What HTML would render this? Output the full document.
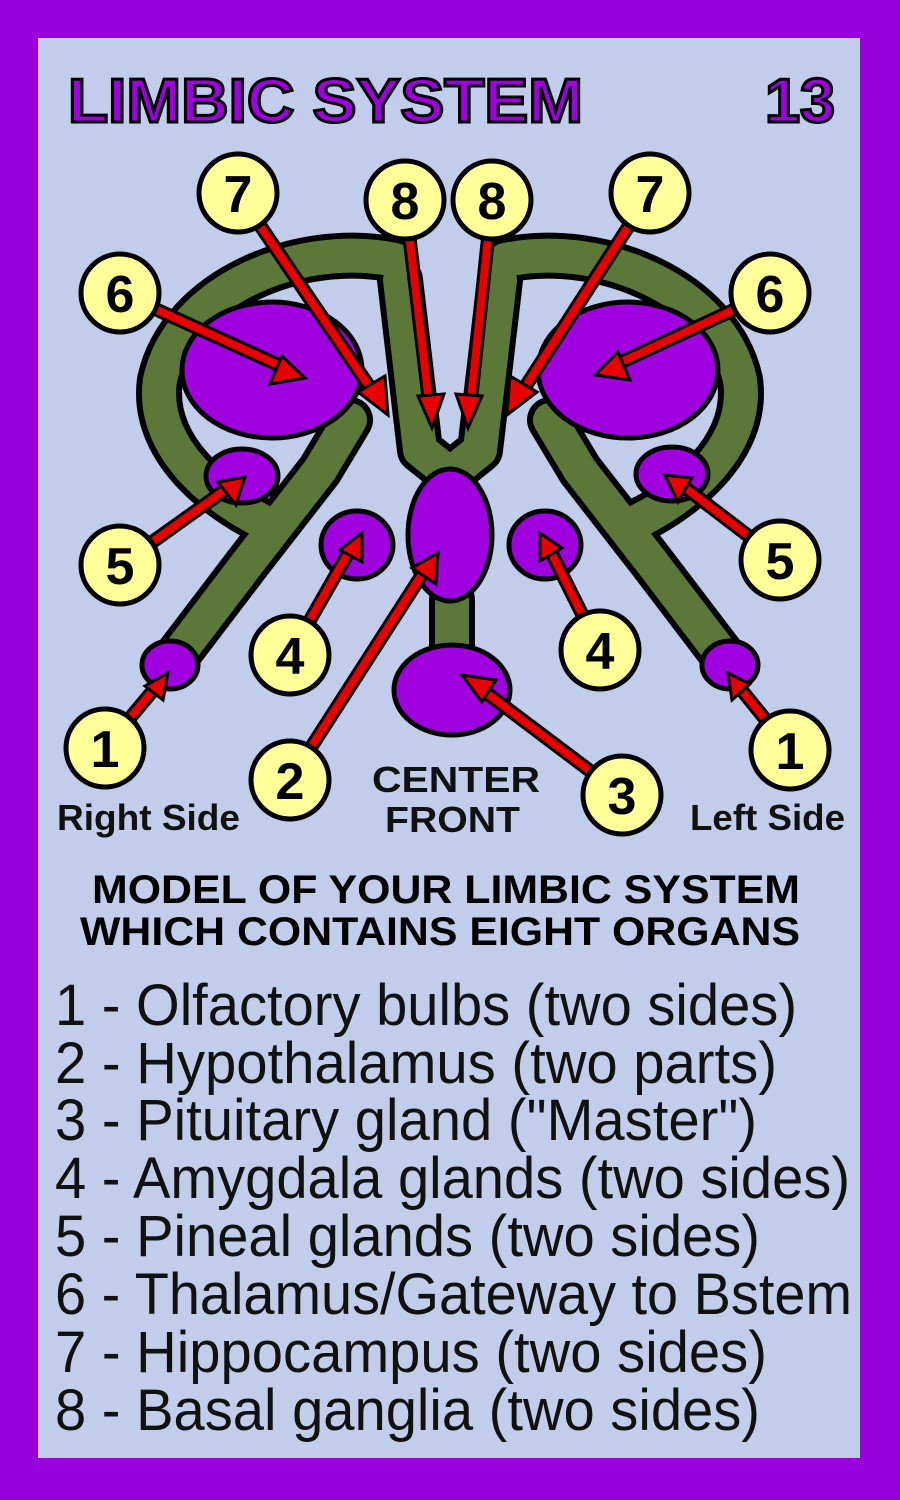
<!DOCTYPE html>
<html><head><meta charset="utf-8"><style>
html,body{margin:0;padding:0;background:#9A00DE;}
svg{display:block}
</style></head><body>
<svg width="900" height="1500" viewBox="0 0 900 1500" xmlns="http://www.w3.org/2000/svg" font-family="Liberation Sans, sans-serif">
<rect x="0" y="0" width="900" height="1500" fill="#9A00DE"/>
<rect x="38" y="38" width="822" height="1420" fill="#C2CDEC"/>
<text x="68" y="122" font-size="62" font-weight="bold" fill="#A000E0" stroke="#000" stroke-width="3" textLength="515" lengthAdjust="spacingAndGlyphs">LIMBIC SYSTEM</text>
<text x="765" y="122" font-size="62" font-weight="bold" fill="#A000E0" stroke="#000" stroke-width="3" textLength="70" lengthAdjust="spacingAndGlyphs">13</text>

<g stroke-linecap="round" stroke-linejoin="round" fill="none">
<!-- black outlines of green tracts -->
<g stroke="#000" stroke-width="46">
<path d="M170 665 L250 560 L320 470 L350 420"/>
<path d="M730 665 L650 560 L580 470 L550 420"/>
<path d="M395 260 C300 240 180 290 160 380 C150 450 220 500 260 520"/>
<path d="M505 260 C600 240 720 290 740 380 C750 450 680 500 640 520"/>
<path d="M400 280 L420 450 L445 470"/>
<path d="M500 280 L480 450 L455 470"/>
<path d="M452 600 L452 660"/>
</g>
<g stroke="#5B7838" stroke-width="34">
<path d="M170 665 L250 560 L320 470 L350 420"/>
<path d="M730 665 L650 560 L580 470 L550 420"/>
<path d="M395 260 C300 240 180 290 160 380 C150 450 220 500 260 520"/>
<path d="M505 260 C600 240 720 290 740 380 C750 450 680 500 640 520"/>
<path d="M400 280 L420 450 L445 470"/>
<path d="M500 280 L480 450 L455 470"/>
<path d="M452 600 L452 660"/>
</g>
</g>
<g stroke="#000" stroke-width="5" fill="#A000E0">
<ellipse cx="272" cy="370" rx="90" ry="68"/>
<ellipse cx="628" cy="370" rx="90" ry="68"/>
<ellipse cx="242" cy="476" rx="36" ry="27"/>
<ellipse cx="672" cy="474" rx="36" ry="27"/>
<ellipse cx="357" cy="545" rx="36" ry="34"/>
<ellipse cx="545" cy="545" rx="36" ry="34"/>
<ellipse cx="450" cy="535" rx="42" ry="66"/>
<ellipse cx="452" cy="690" rx="58" ry="45"/>
<ellipse cx="170" cy="665" rx="28" ry="24"/>
<ellipse cx="730" cy="665" rx="28" ry="24"/>
</g>

<!-- arrows -->
<g stroke-linecap="round">
<g stroke="#000" stroke-width="14">
<line x1="238" y1="193" x2="375" y2="395"/><line x1="405" y1="200" x2="430" y2="410"/>
<line x1="492" y1="200" x2="470" y2="410"/><line x1="650" y1="193" x2="520" y2="395"/>
<line x1="120" y1="293" x2="285" y2="368"/><line x1="770" y1="293" x2="615" y2="365"/>
<line x1="120" y1="565" x2="228" y2="488"/><line x1="780" y1="560" x2="683" y2="486"/>
<line x1="290" y1="655" x2="350" y2="550"/><line x1="600" y1="650" x2="550" y2="550"/>
<line x1="105" y1="748" x2="155" y2="688"/><line x1="790" y1="750" x2="740" y2="688"/>
<line x1="290" y1="780" x2="425" y2="570"/><line x1="622" y1="795" x2="480" y2="688"/>
</g>
<g stroke="#E80000" stroke-width="8">
<line x1="238" y1="193" x2="375" y2="395"/><line x1="405" y1="200" x2="430" y2="410"/>
<line x1="492" y1="200" x2="470" y2="410"/><line x1="650" y1="193" x2="520" y2="395"/>
<line x1="120" y1="293" x2="285" y2="368"/><line x1="770" y1="293" x2="615" y2="365"/>
<line x1="120" y1="565" x2="228" y2="488"/><line x1="780" y1="560" x2="683" y2="486"/>
<line x1="290" y1="655" x2="350" y2="550"/><line x1="600" y1="650" x2="550" y2="550"/>
<line x1="105" y1="748" x2="155" y2="688"/><line x1="790" y1="750" x2="740" y2="688"/>
<line x1="290" y1="780" x2="425" y2="570"/><line x1="622" y1="795" x2="480" y2="688"/>
</g>
</g>
<g fill="#E80000" stroke="#000" stroke-width="3">
<polygon points="388,415 358,392 385,376"/>
<polygon points="432,428 418,396 444,394"/>
<polygon points="468,428 456,394 482,396"/>
<polygon points="507,415 510,376 537,392"/>
<polygon points="305,378 270,384 282,356"/>
<polygon points="595,375 618,352 630,380"/>
<polygon points="245,477 236,505 218,482"/>
<polygon points="665,475 692,478 678,502"/>
<polygon points="362,533 362,562 340,550"/>
<polygon points="540,533 562,548 540,561"/>
<polygon points="168,673 163,700 145,686"/>
<polygon points="728,673 750,684 732,700"/>
<polygon points="438,553 436,584 412,568"/>
<polygon points="462,675 496,680 482,702"/>
</g>

<!-- circles -->
<g stroke="#000" stroke-width="5" fill="#FFFF99">
<circle cx="238" cy="193" r="39"/><circle cx="405" cy="200" r="39"/>
<circle cx="492" cy="200" r="39"/><circle cx="650" cy="193" r="39"/>
<circle cx="120" cy="293" r="39"/><circle cx="770" cy="293" r="39"/>
<circle cx="120" cy="565" r="39"/><circle cx="780" cy="560" r="39"/>
<circle cx="290" cy="655" r="39"/><circle cx="600" cy="650" r="39"/>
<circle cx="105" cy="748" r="39"/><circle cx="790" cy="750" r="39"/>
<circle cx="290" cy="780" r="39"/><circle cx="622" cy="795" r="39"/>
</g>
<g font-size="52" font-weight="bold" fill="#000" text-anchor="middle">
<text x="238" y="212">7</text><text x="405" y="219">8</text>
<text x="492" y="219">8</text><text x="650" y="212">7</text>
<text x="120" y="312">6</text><text x="770" y="312">6</text>
<text x="120" y="584">5</text><text x="780" y="579">5</text>
<text x="290" y="674">4</text><text x="600" y="669">4</text>
<text x="105" y="767">1</text><text x="790" y="769">1</text>
<text x="290" y="799">2</text><text x="622" y="814">3</text>
</g>
<g font-size="36" font-weight="bold" fill="#111">
<text x="57" y="830" textLength="183" lengthAdjust="spacingAndGlyphs">Right Side</text>
<text x="372" y="792" textLength="168" lengthAdjust="spacingAndGlyphs">CENTER</text>
<text x="385" y="832" textLength="135" lengthAdjust="spacingAndGlyphs">FRONT</text>
<text x="690" y="830" textLength="155" lengthAdjust="spacingAndGlyphs">Left Side</text>
</g>
<g font-size="40" font-weight="bold" fill="#000">
<text x="92" y="903" textLength="708" lengthAdjust="spacingAndGlyphs">MODEL OF YOUR LIMBIC SYSTEM</text>
<text x="80" y="945" textLength="720" lengthAdjust="spacingAndGlyphs">WHICH CONTAINS EIGHT ORGANS</text>
</g>
<g font-size="58" fill="#111" lengthAdjust="spacingAndGlyphs">
<text x="55" y="1025" textLength="742" lengthAdjust="spacingAndGlyphs">1 - Olfactory bulbs (two sides)</text>
<text x="55" y="1083" textLength="722" lengthAdjust="spacingAndGlyphs">2 - Hypothalamus (two parts)</text>
<text x="55" y="1140" textLength="702" lengthAdjust="spacingAndGlyphs">3 - Pituitary gland ("Master")</text>
<text x="55" y="1198" textLength="795" lengthAdjust="spacingAndGlyphs">4 - Amygdala glands (two sides)</text>
<text x="55" y="1256" textLength="705" lengthAdjust="spacingAndGlyphs">5 - Pineal glands (two sides)</text>
<text x="55" y="1314" textLength="797" lengthAdjust="spacingAndGlyphs">6 - Thalamus/Gateway to Bstem</text>
<text x="55" y="1372" textLength="712" lengthAdjust="spacingAndGlyphs">7 - Hippocampus (two sides)</text>
<text x="55" y="1430" textLength="705" lengthAdjust="spacingAndGlyphs">8 - Basal ganglia (two sides)</text>
</g>
</svg>
</body></html>
